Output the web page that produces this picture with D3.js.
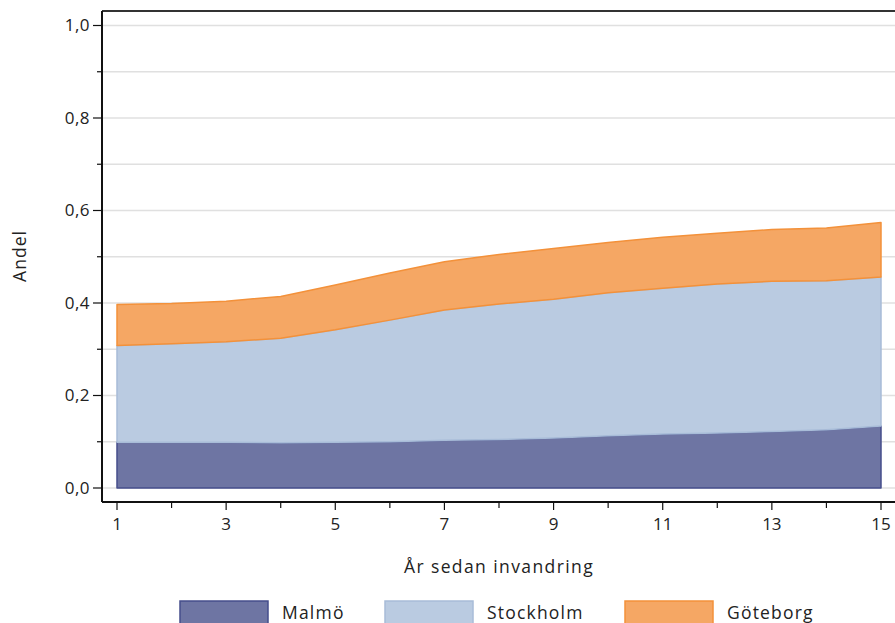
<!DOCTYPE html>
<html><head><meta charset="utf-8">
<script src="https://cdn.jsdelivr.net/npm/d3@7"></script>
<style>
body{margin:0;background:#fff;}
text{font-family:"Open Sans",Lato,sans-serif;fill:#222;}
</style></head>
<body>
<svg id="c" width="895" height="623"></svg>
<script>
const years = [1,2,3,4,5,6,7,8,9,10,11,12,13,14,15];
const malmo = [0.099,0.099,0.099,0.098,0.099,0.100,0.103,0.105,0.108,0.113,0.117,0.119,0.122,0.126,0.134];
const stockholm = [0.209,0.213,0.217,0.226,0.243,0.263,0.282,0.293,0.300,0.309,0.315,0.322,0.325,0.322,0.322];
const goteborg = [0.089,0.087,0.088,0.090,0.097,0.102,0.104,0.107,0.110,0.109,0.110,0.110,0.112,0.114,0.118];
const seriesNames = ["Malmö","Stockholm","Göteborg"];
const yTickLabels = ["0,0","0,2","0,4","0,6","0,8","1,0"];
const xTickLabels = ["1","3","5","7","9","11","13","15"];

const fills = ["#6e75a3","#bacbe1","#f5a764"];
const strokes = ["#454e8c","#a8bcd8","#f3913a"];

const svg = d3.select("#c");
const x = d3.scaleLinear().domain([1,15]).range([117,881]);
const y = d3.scaleLinear().domain([0,1]).range([488,25.5]);
const pL = 102, pR = 895, pT = 11, pB = 502;

// gridlines
const grid = d3.range(0,11).map(i=>i/10);
svg.append("g").selectAll("line").data(grid).join("line")
  .attr("x1",pL+1).attr("x2",pR)
  .attr("y1",d=>y(d)).attr("y2",d=>y(d))
  .attr("stroke","#e0e0e0").attr("stroke-width",1.5);

// stacked data
const table = years.map((yr,i)=>({year:yr,"Malmö":malmo[i],"Stockholm":stockholm[i],"Göteborg":goteborg[i]}));
const stack = d3.stack().keys(seriesNames)(table);
const area = d3.area().x(d=>x(d.data.year)).y0(d=>y(d[0])).y1(d=>y(d[1]));
svg.append("g").selectAll("path").data(stack).join("path")
  .attr("d",area)
  .attr("fill",(d,i)=>fills[i])
  .attr("stroke",(d,i)=>strokes[i])
  .attr("stroke-width",1.5)
  .attr("stroke-linejoin","round");

// frame lines
svg.append("line").attr("x1",pL).attr("x2",pR).attr("y1",pT).attr("y2",pT).attr("stroke","#333").attr("stroke-width",2);
svg.append("line").attr("x1",pL).attr("x2",pL).attr("y1",pT).attr("y2",pB).attr("stroke","#111").attr("stroke-width",2);
svg.append("line").attr("x1",pL).attr("x2",pR).attr("y1",pB).attr("y2",pB).attr("stroke","#111").attr("stroke-width",2);

// y ticks
const yAxisG = svg.append("g");
yAxisG.selectAll("line.minor").data(d3.range(1,10,2).map(i=>i/10)).join("line")
  .attr("class","minor")
  .attr("x1",pL-5).attr("x2",pL).attr("y1",d=>y(d)).attr("y2",d=>y(d)).attr("stroke","#111").attr("stroke-width",1.2);
const yMajor = d3.range(0,6).map(i=>i*0.2);
yAxisG.selectAll("line.major").data(yMajor).join("line")
  .attr("class","major")
  .attr("x1",pL-9).attr("x2",pL).attr("y1",d=>y(d)).attr("y2",d=>y(d)).attr("stroke","#111").attr("stroke-width",1.2);
yAxisG.selectAll("text").data(yMajor).join("text")
  .attr("x",pL-12).attr("y",d=>y(d)).attr("dy","0.35em")
  .attr("text-anchor","end").attr("font-size",17).attr("letter-spacing",0.5)
  .text((d,i)=>yTickLabels[i]);

// x ticks
const xAxisG = svg.append("g");
xAxisG.selectAll("line").data(years).join("line")
  .attr("x1",d=>x(d)).attr("x2",d=>x(d))
  .attr("y1",pB).attr("y2",d=>d%2===1?pB+8:pB+6)
  .attr("stroke","#111").attr("stroke-width",1.2);
const xMajor = years.filter(d=>d%2===1);
xAxisG.selectAll("text").data(xMajor).join("text")
  .attr("x",d=>x(d)).attr("y",530).attr("text-anchor","middle").attr("font-size",17)
  .text((d,i)=>xTickLabels[i]);

// axis titles
svg.append("text").attr("x",499).attr("y",573).attr("text-anchor","middle").attr("font-size",17.5).attr("letter-spacing",1.4).text("År sedan invandring");
svg.append("text").attr("transform","translate(26,256) rotate(-90)").attr("text-anchor","middle").attr("font-size",17.5).attr("letter-spacing",1).text("Andel");

// legend
const legX = [180,385,625];
const leg = svg.append("g").selectAll("g").data(seriesNames).join("g")
  .attr("transform",(d,i)=>`translate(${legX[i]},601)`);
leg.append("rect").attr("x",0).attr("y",0).attr("width",88).attr("height",30)
  .attr("fill",(d,i)=>fills[i]).attr("stroke",(d,i)=>strokes[i]).attr("stroke-width",1.5);
leg.append("text").attr("x",102).attr("y",18).attr("font-size",17.5).attr("letter-spacing",1.2).text(d=>d);
</script>
</body></html>
